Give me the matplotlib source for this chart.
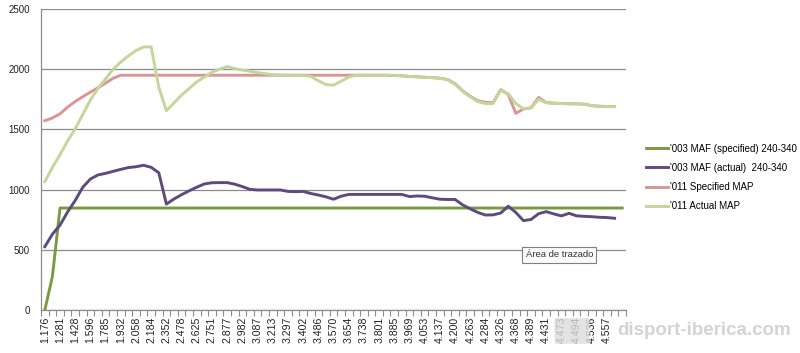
import matplotlib
matplotlib.use('Agg')
import matplotlib.pyplot as plt
from matplotlib.patches import FancyBboxPatch
import numpy as np

plt.rcParams['font.family'] = ['Liberation Sans', 'DejaVu Sans']

# tick labels shown under every second category
rpm_labels = ['1.176', '1.281', '1.428', '1.596', '1.785', '1.932', '2.058', '2.184', '2.352', '2.478',
              '2.625', '2.751', '2.877', '2.982', '3.087', '3.213', '3.297', '3.402', '3.486', '3.570',
              '3.654', '3.738', '3.801', '3.885', '3.969', '4.053', '4.137', '4.200', '4.263', '4.284',
              '4.326', '4.368', '4.389', '4.431', '4.473', '4.494', '4.536', '4.557']
n_cat = 77

nan = np.nan
maf_spec = [0, 280] + [847] * 75

maf_actual = [526, 630, 705, 815, 910, 1020, 1088, 1122, 1135, 1152,
              1168, 1183, 1190, 1202, 1185, 1140, 880, 922, 958, 990,
              1020, 1047, 1057, 1058, 1058, 1045, 1025, 1002, 997, 997,
              997, 997, 985, 983, 985, 968, 955, 940, 920, 945,
              960, 960, 960, 960, 960, 960, 960, 960, 942, 947,
              945, 932, 920, 918, 918, 873, 840, 810, 789, 790,
              805, 862, 810, 742, 752, 800, 817, 798, 782, 803,
              782, 778, 775, 770, 768, 762, nan]

map_spec = [1572, 1595, 1630, 1685, 1732, 1772, 1810, 1845, 1885, 1925,
            1950, 1950, 1950, 1950, 1950, 1950, 1950, 1950, 1950, 1950,
            1950, 1950, 1950, 1950, 1950, 1950, 1950, 1950, 1950, 1950,
            1950, 1950, 1950, 1950, 1950, 1950, 1950, 1950, 1950, 1950,
            1950, 1950, 1950, 1950, 1950, 1950, 1948, 1945, 1940, 1937,
            1933, 1930, 1925, 1915, 1880, 1820, 1775, 1738, 1725, 1722,
            1830, 1790, 1633, 1670, 1680, 1766, 1722, 1718, 1715, 1713,
            1712, 1710, 1697, 1692, 1690, 1689, nan]

map_actual = [1066, 1185, 1290, 1405, 1505, 1625, 1745, 1840, 1920, 2000,
              2060, 2110, 2155, 2185, 2185, 1850, 1655, 1720, 1785, 1840,
              1895, 1935, 1975, 2000, 2022, 2005, 1992, 1983, 1972, 1963,
              1955, 1952, 1950, 1950, 1948, 1940, 1905, 1872, 1868, 1900,
              1935, 1950, 1950, 1950, 1950, 1950, 1948, 1945, 1940, 1937,
              1933, 1930, 1925, 1912, 1875, 1815, 1770, 1730, 1715, 1715,
              1825, 1795, 1715, 1670, 1678, 1750, 1722, 1718, 1715, 1713,
              1712, 1710, 1697, 1692, 1690, 1689, nan]

series = [
    ("'003 MAF (specified) 240-340", maf_spec, '#7A9A41'),
    ("'003 MAF (actual)  240-340", maf_actual, '#5F4A7E'),
    ("'011 Specified MAP", map_spec, '#D99694'),
    ("'011 Actual MAP", map_actual, '#C3D69B'),
]

fig = plt.figure(figsize=(8, 3.53), dpi=100)
ax = fig.add_axes([0.0513, 0.1218, 0.7312, 0.8527])

x = np.arange(n_cat)
for name, vals, col in series:
    ax.plot(x, vals, color=col, lw=2.1, label=name, solid_joinstyle='round')

ax.set_xlim(-0.5, n_cat - 0.5)
ax.set_ylim(0, 2500)
ax.set_yticks(range(0, 2501, 500))
ax.yaxis.grid(True, color='#8C8C8C', lw=0.9)
ax.set_axisbelow(True)
ax.tick_params(axis='y', length=0, labelsize=7, labelcolor='#222222', pad=8)

ax.set_xticks(x[:2 * len(rpm_labels):2])
ax.set_xticklabels(rpm_labels, rotation=90, fontsize=7.6, color='#222222')
ax.set_xticks(np.arange(-0.5, n_cat, 1), minor=True)
ax.tick_params(axis='x', which='major', length=0, pad=5)
ax.tick_params(axis='x', which='minor', length=4, color='#8C8C8C', width=0.8)

for s in ['top', 'right']:
    ax.spines[s].set_visible(False)
for s in ['left', 'bottom']:
    ax.spines[s].set_color('#8C8C8C')
    ax.spines[s].set_linewidth(0.9)

leg = fig.legend(loc='upper left', bbox_to_anchor=(0.797, 0.618), frameon=False,
                 fontsize=7, handlelength=2.2, handletextpad=0.25, labelspacing=0.95)

# tooltip box from the screenshot
fig.text(0.699, 0.278, 'Área de trazado', fontsize=6.8, color='#333333', ha='center', va='center',
         bbox=dict(boxstyle='square,pad=0.35', fc='#FAFAFA', ec='#7F7F7F', lw=0.8))

# watermark
fig.patches.append(FancyBboxPatch((0.697, 0.03), 0.036, 0.065, boxstyle='round,pad=0.004',
                                  transform=fig.transFigure, fc='#DDDDDD', ec='none', alpha=0.8))
fig.text(0.988, 0.04, 'disport-iberica.com', fontsize=13.5, fontweight='bold', color='#D4D4D4',
         ha='right', va='bottom')

fig.savefig('out.png', dpi=100, facecolor='white')
